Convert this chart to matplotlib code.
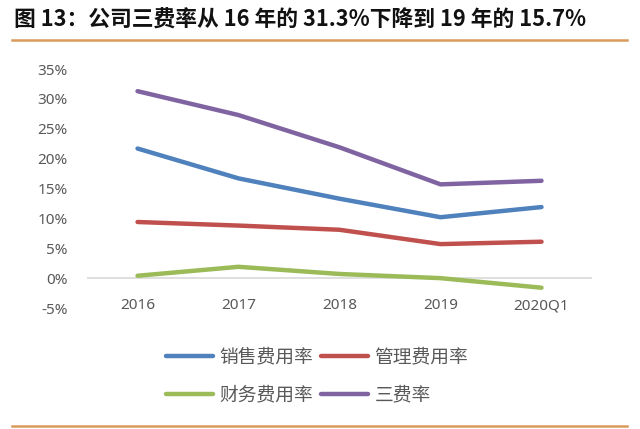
import matplotlib
matplotlib.use("Agg")
import matplotlib.pyplot as plt
from matplotlib.lines import Line2D

plt.rcParams['font.family'] = ['Noto Sans CJK SC', 'DejaVu Sans']

categories = ["2016", "2017", "2018", "2019", "2020Q1"]
sales_rate = [21.7, 16.7, 13.3, 10.2, 11.9]
admin_rate = [9.4, 8.8, 8.1, 5.7, 6.1]
fin_rate = [0.4, 1.9, 0.7, 0.0, -1.6]
total_rate = [31.3, 27.3, 21.9, 15.7, 16.3]
yticks = [-5, 0, 5, 10, 15, 20, 25, 30, 35]

series = [
    ("销售费用率", sales_rate, "#4F81BD"),
    ("管理费用率", admin_rate, "#C0504D"),
    ("财务费用率", fin_rate, "#9BBB59"),
    ("三费率", total_rate, "#8064A2"),
]

fig = plt.figure(figsize=(6.4, 4.29), dpi=100)
ax = fig.add_axes([0.136, 0.282, 0.789, 0.557])

x = list(range(len(categories)))
handles = []
for name, vals, col in series:
    ln, = ax.plot(x, vals, color=col, lw=3.2, solid_capstyle='round',
                  solid_joinstyle='round', label=name)
    handles.append(ln)

ax.set_xlim(-0.5, len(categories) - 0.5)
ax.set_ylim(-5, 35)
ax.set_yticks(yticks)
ax.set_yticklabels([f"{v}%" for v in yticks], family=['Noto Sans', 'DejaVu Sans'])
ax.set_xticks(x)
ax.set_xticklabels(categories, family=['Noto Sans', 'DejaVu Sans'])
ax.tick_params(axis='y', length=0, pad=14, labelsize=11, labelcolor='#595959')
ax.tick_params(axis='x', length=0, pad=-7, labelsize=11, labelcolor='#595959')
for s in ax.spines.values():
    s.set_visible(False)
ax.axhline(0, color='#D9D9D9', lw=1.2, zorder=0)

# matplotlib fills legend column-major; reorder so rows read like the reference
order = [0, 2, 1, 3]
leg = fig.legend(handles=[handles[i] for i in order], loc='upper left',
                 bbox_to_anchor=(0.26, 0.192),
                 ncol=2, frameon=False, handlelength=2.5,
                 handletextpad=0.35, columnspacing=0.4, labelspacing=0.9,
                 borderpad=0, borderaxespad=0,
                 prop={'family': ['Noto Sans CJK SC', 'DejaVu Sans'], 'weight': 'light', 'size': 13.5})
for t in leg.get_texts():
    t.set_color('#595959')

fig.text(0.022, 0.952, "图 13：公司三费率从 16 年的 31.3%下降到 19 年的 15.7%",
         fontsize=15.7, fontweight='bold', color='#111111', va='center', ha='left')
fig.add_artist(Line2D([0.018, 0.98], [0.906, 0.906], color='#D99B5A', lw=1.8))
fig.add_artist(Line2D([0.018, 0.98], [0.006, 0.006], color='#D99B5A', lw=1.8))

fig.savefig("out.png", dpi=100)
